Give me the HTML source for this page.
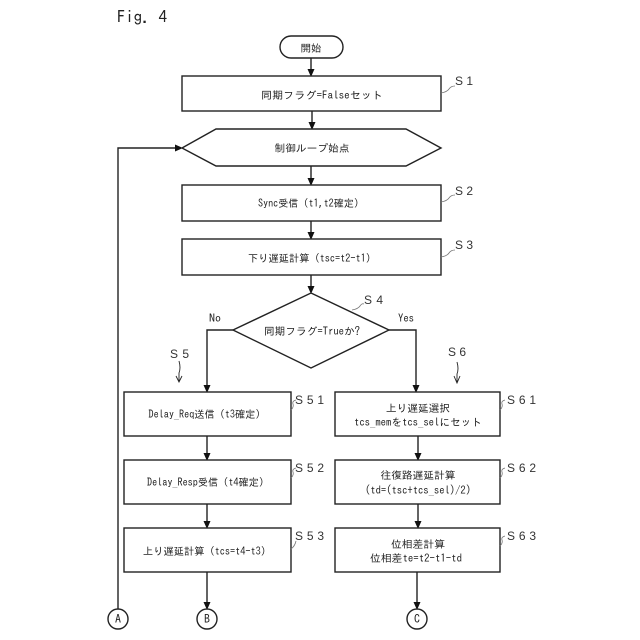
<!DOCTYPE html>
<html><head><meta charset="utf-8"><style>
html,body{margin:0;padding:0;background:#fff}
svg{display:block}
text{font-family:"IPAGothic","Liberation Mono","Noto Sans CJK JP",monospace;fill:#222;font-size:10.5px;text-anchor:middle}
.s{font-family:"Liberation Sans",sans-serif;font-size:12px;text-anchor:start;fill:#333}
.b{fill:#fff;stroke:#222;stroke-width:1.4}
.l{fill:none;stroke:#222;stroke-width:1.4}
.q{fill:none;stroke:#777;stroke-width:.8}
.a{fill:#111}
</style></head><body>
<svg width="640" height="640" viewBox="0 0 640 640" xmlns="http://www.w3.org/2000/svg">
<text x="117" y="23" style="font-size:17px;text-anchor:start;font-family:'IPAGothic','Liberation Mono',monospace" textLength="50" lengthAdjust="spacing">Fig. 4</text>
<path class="l" d="M311 58V71M312 111V124M311 166V180M311 221V234M311 275V288M233 330H207V387M389 330H416V387M207 436V455M207 504V523M207 572V603M418 436V455M418 504V523M417 572V603M118 609V148H177"/>
<path class="a" d="M307.500 69H314.500L311 77ZM308.500 122H315.500L312 130ZM307.500 178H314.500L311 186ZM307.500 232H314.500L311 240ZM307.500 286H314.500L311 294ZM203.500 385H210.500L207 393ZM412.500 385H419.500L416 393ZM203.500 453H210.500L207 461ZM414.500 453H421.500L418 461ZM203.500 521H210.500L207 529ZM414.500 521H421.500L418 529ZM203.500 602H210.500L207 610ZM413.500 602H420.500L417 610ZM175 144.500V151.500L183 148Z"/>
<rect class="b" x="280" y="36" width="63" height="22" rx="11"/>
<rect class="b" x="182" y="76" width="259" height="35"/>
<path class="b" d="M182 148L216 129H406L441 148L406 166H216Z"/>
<rect class="b" x="182" y="185" width="259" height="36"/>
<rect class="b" x="182" y="239" width="259" height="36"/>
<path class="b" d="M311 293L389 330L311 368L233 330Z"/>
<rect class="b" x="124" y="392" width="167" height="44"/>
<rect class="b" x="124" y="460" width="167" height="44"/>
<rect class="b" x="124" y="528" width="167" height="44"/>
<rect class="b" x="335" y="392" width="165" height="44"/>
<rect class="b" x="335" y="460" width="165" height="44"/>
<rect class="b" x="335" y="528" width="165" height="44"/>
<circle class="b" cx="118" cy="619" r="10"/>
<circle class="b" cx="207" cy="619" r="10"/>
<circle class="b" cx="417" cy="619" r="10"/>
<text x="311" y="52">開始</text>
<text x="322" y="99" textLength="122" lengthAdjust="spacingAndGlyphs">同期フラグ=Falseセット</text>
<text x="312" y="152" textLength="75" lengthAdjust="spacingAndGlyphs">制御ループ始点</text>
<text x="311" y="207" textLength="106" lengthAdjust="spacingAndGlyphs">Sync受信（t1,t2確定）</text>
<text x="312" y="262" textLength="128" lengthAdjust="spacingAndGlyphs">下り遅延計算（tsc=t2-t1）</text>
<text x="312" y="335" textLength="96" lengthAdjust="spacingAndGlyphs">同期フラグ=Trueか?</text>
<text x="215" y="322" textLength="12" lengthAdjust="spacingAndGlyphs">No</text>
<text x="406" y="322" textLength="16" lengthAdjust="spacingAndGlyphs">Yes</text>
<text x="207" y="418" textLength="117" lengthAdjust="spacingAndGlyphs">Delay_Req送信（t3確定）</text>
<text x="208" y="486" textLength="122" lengthAdjust="spacingAndGlyphs">Delay_Resp受信（t4確定）</text>
<text x="207" y="555" textLength="128" lengthAdjust="spacingAndGlyphs">上り遅延計算（tcs=t4-t3）</text>
<text x="418" y="412" textLength="64" lengthAdjust="spacingAndGlyphs">上り遅延選択</text>
<text x="418" y="426" textLength="128" lengthAdjust="spacingAndGlyphs">tcs_memをtcs_selにセット</text>
<text x="418" y="479" textLength="75" lengthAdjust="spacingAndGlyphs">往復路遅延計算</text>
<text x="418" y="494" textLength="106" lengthAdjust="spacingAndGlyphs">(td=(tsc+tcs_sel)/2)</text>
<text x="418" y="548" textLength="54" lengthAdjust="spacingAndGlyphs">位相差計算</text>
<text x="416" y="562" textLength="92" lengthAdjust="spacingAndGlyphs">位相差te=t2-t1-td</text>
<text x="118" y="623" style="font-size:12px">A</text><text x="207" y="623" style="font-size:12px">B</text><text x="417" y="623" style="font-size:12px">C</text>
<text class="s" x="455" y="85" textLength="18">S 1</text>
<text class="s" x="455" y="195" textLength="18">S 2</text>
<text class="s" x="455" y="249" textLength="18">S 3</text>
<text class="s" x="364" y="304" textLength="19">S 4</text>
<text class="s" x="170" y="358" textLength="19">S 5</text>
<text class="s" x="448" y="356" textLength="18">S 6</text>
<text class="s" x="295" y="404" textLength="29">S 5 1</text>
<text class="s" x="295" y="472" textLength="29">S 5 2</text>
<text class="s" x="295" y="540" textLength="29">S 5 3</text>
<text class="s" x="507" y="404" textLength="29">S 6 1</text>
<text class="s" x="507" y="472" textLength="29">S 6 2</text>
<text class="s" x="507" y="540" textLength="29">S 6 3</text>
<path class="q" d="M441 93Q447 92 449 89T455 86M441 202Q447 201 449 198T455 195M441 257Q447 256 449 253T455 250M352 310Q358 309 360 306T364 304M291 410Q294 407 293 404T296 400M291 478Q294 475 293 472T296 468M291 549Q295 546 296 541M500 410Q503 407 502 404T505 400M500 478Q503 475 502 472T505 468M500 546Q503 543 502 540T505 536"/>
<path class="l" style="stroke-width:.9" d="M179 361Q181 368 179 373V381M176 376L179 382L182 376M457 362Q459 369 457 374V382M454 376L457 383L460 376"/>
</svg>
</body></html>
